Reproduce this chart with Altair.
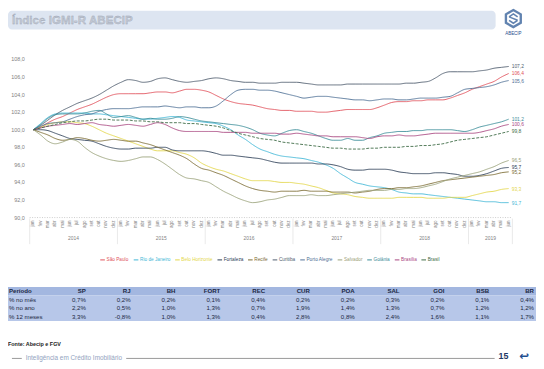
import altair as alt
import pandas as pd

# ---------------- data ----------------
series_names = ["São Paulo", "Rio de Janeiro", "Belo Horizonte", "Fortaleza", "Recife",
                "Curitiba", "Porto Alegre", "Salvador", "Goiânia", "Brasília", "Brasil"]
series_colors = ["#e04f5a", "#3fb7d6", "#e3d64a", "#2c3e56", "#7a6a32",
                 "#4f5d6e", "#4d6f95", "#9aa27a", "#3a8c98", "#a8457f", "#3d6b45"]

month_abbr = ["jan", "fev", "mar", "abr", "mai", "jun", "jul", "ago", "set", "out", "nov", "dez"]
years = [2014, 2015, 2016, 2017, 2018, 2019]
months_2019 = 6

sao_paulo = [100.0, 100.3, 100.8, 101.2, 101.5, 101.9, 102.3, 102.6, 102.9, 103.3, 103.7, 104.0,
             104.1, 104.1, 104.1, 104.1, 104.2, 104.3, 104.3, 104.2, 104.4, 104.6, 104.6, 104.5,
             104.3, 103.9, 103.5, 103.2, 103.0, 102.9, 102.8, 102.6, 102.4, 102.3, 102.2, 102.2,
             102.1, 102.1, 102.1, 102.0, 102.0, 102.1, 102.2, 102.3, 102.3, 102.3, 102.3, 102.5,
             102.8, 103.1, 103.2, 103.2, 103.3, 103.3, 103.4, 103.4, 103.4, 103.6, 103.9, 104.2,
             104.6, 104.9, 105.2, 105.5, 106.0, 106.4]
rio = [100.0, 100.7, 101.4, 101.8, 101.9, 101.9, 101.9, 101.9, 101.8, 101.8, 101.7, 101.6,
       101.5, 101.4, 101.3, 101.2, 101.2, 101.3, 101.4, 101.5, 101.4, 101.1, 101.0, 100.9,
       100.8, 100.7, 100.4, 100.0, 99.4, 98.9, 98.3, 97.8, 97.5, 97.2, 97.0, 96.9,
       96.8, 96.7, 96.5, 96.3, 96.0, 95.6, 95.0, 94.5, 94.0, 93.8, 93.6, 93.5,
       93.4, 93.2, 92.9, 92.8, 92.7, 92.7, 92.6, 92.5, 92.4, 92.3, 92.2, 92.1,
       92.0, 91.9, 91.8, 91.8, 91.7, 91.7]
belo_horizonte = [100.0, 100.3, 100.6, 100.8, 100.9, 100.9, 100.8, 100.7, 100.4, 100.0, 99.6, 99.3,
                  99.0, 98.7, 98.4, 98.1, 97.8, 97.6, 97.6, 97.6, 97.4, 97.2, 96.8, 96.2,
                  95.8, 95.5, 95.3, 95.0, 94.7, 94.4, 94.2, 94.2, 94.2, 94.1, 94.0, 94.0,
                  93.9, 93.8, 93.6, 93.4, 93.1, 92.8, 92.7, 92.6, 92.4, 92.3, 92.2, 92.2,
                  92.2, 92.2, 92.3, 92.3, 92.3, 92.3, 92.2, 92.2, 92.2, 92.3, 92.3, 92.3,
                  92.5, 92.7, 92.9, 93.0, 93.2, 93.3]
fortaleza = [100.0, 100.0, 99.9, 99.6, 99.3, 99.0, 98.9, 98.8, 98.7, 98.4, 98.1, 97.9,
             97.8, 97.8, 97.9, 97.9, 97.9, 98.0, 98.0, 97.7, 97.6, 97.6, 97.6, 97.6,
             97.5, 97.3, 97.1, 97.1, 97.0, 96.9, 96.8, 96.7, 96.5, 96.3, 96.2, 96.2,
             96.2, 96.2, 96.2, 96.1, 96.1, 96.0, 95.8, 95.5, 95.4, 95.4, 95.5, 95.5,
             95.5, 95.4, 95.2, 95.1, 95.0, 95.0, 95.0, 95.1, 95.1, 95.0, 94.9, 94.7,
             94.7, 94.8, 95.0, 95.3, 95.6, 95.7]
recife = [100.0, 99.7, 99.4, 99.0, 98.8, 98.9, 99.1, 99.0, 98.8, 98.7, 98.8, 98.9,
          98.8, 98.7, 98.7, 98.5, 98.3, 98.0, 97.7, 97.4, 97.1, 96.7, 96.1, 95.6,
          95.4, 95.1, 94.8, 94.4, 94.0, 93.6, 93.3, 93.1, 93.0, 92.9, 93.0, 93.0,
          93.0, 93.1, 93.0, 93.0, 93.0, 92.9, 92.9, 92.9, 92.8, 92.9, 93.0, 93.2,
          93.3, 93.3, 93.4, 93.4, 93.5, 93.6, 93.8, 94.0, 94.2, 94.3, 94.4, 94.5,
          94.6, 94.7, 94.8, 94.9, 95.1, 95.2]
curitiba = [100.0, 100.5, 101.1, 101.7, 102.2, 102.6, 103.0, 103.3, 103.6, 104.0, 104.5, 105.0,
            105.4, 105.7, 105.6, 105.4, 105.5, 105.8, 105.9, 105.7, 105.5, 105.4, 105.5, 105.6,
            105.8, 105.9, 105.8, 105.6, 105.5, 105.4, 105.4, 105.3, 105.3, 105.3, 105.4, 105.4,
            105.4, 105.3, 105.2, 105.1, 105.1, 105.1, 105.1, 105.2, 105.2, 105.2, 105.2, 105.2,
            105.2, 105.2, 105.2, 105.3, 105.3, 105.4, 105.5, 105.9, 106.4, 106.6, 106.6, 106.6,
            106.6, 106.7, 106.8, 107.0, 107.1, 107.2]
porto_alegre = [100.0, 100.4, 100.7, 100.8, 100.9, 101.2, 101.5, 101.7, 101.8, 102.1, 102.3, 102.4,
                102.4, 102.4, 102.5, 102.6, 102.6, 102.6, 102.7, 102.6, 102.5, 102.6, 102.6, 102.5,
                102.5, 102.7, 103.3, 104.0, 104.5, 104.6, 104.6, 104.5, 104.5, 104.4, 104.2, 104.0,
                103.8, 103.6, 103.7, 103.8, 103.8, 103.7, 103.6, 103.5, 103.4, 103.4, 103.3, 103.4,
                103.5, 103.5, 103.4, 103.4, 103.5, 103.6, 103.6, 103.6, 103.7, 103.8, 104.2, 104.6,
                104.7, 104.8, 104.9, 105.1, 105.4, 105.6]
salvador = [100.0, 99.4, 98.7, 98.4, 98.6, 98.9, 98.7, 98.0, 97.4, 97.0, 96.7, 96.5,
            96.4, 96.5, 96.7, 96.9, 96.9, 96.6, 96.1, 95.5, 94.9, 94.5, 94.4, 94.2,
            94.0, 93.5, 93.0, 92.6, 92.2, 91.9, 91.7, 91.8, 92.0, 92.1, 92.3, 92.5,
            92.5, 92.5, 92.6, 92.5, 92.5, 92.6, 92.7, 92.8, 92.9, 93.0, 93.1, 93.1,
            93.1, 93.2, 93.2, 93.3, 93.3, 93.4, 93.6, 93.8, 94.1, 94.4, 94.6, 94.8,
            95.0, 95.2, 95.5, 95.8, 96.2, 96.5]
goiania = [100.0, 100.6, 101.3, 101.7, 101.8, 101.8, 101.8, 101.9, 102.1, 102.2, 101.8, 101.4,
           101.5, 101.6, 101.4, 101.2, 101.3, 101.2, 101.2, 101.3, 101.5, 101.4, 101.2, 101.0,
           100.9, 100.8, 100.7, 100.6, 100.5, 100.3, 100.0, 99.6, 99.4, 99.3, 99.6, 99.9,
           100.0, 99.8, 99.6, 99.3, 99.0, 98.8, 98.8, 99.0, 98.8, 98.8, 99.1, 99.3,
           99.6, 99.7, 99.8, 99.8, 99.9, 99.9, 100.0, 100.0, 100.0, 100.0, 99.9, 99.8,
           100.0, 100.3, 100.5, 100.7, 100.9, 101.2]
brasilia = [100.0, 100.2, 100.4, 100.5, 100.6, 100.7, 100.6, 100.7, 100.8, 100.6, 100.5, 100.4,
            100.5, 100.6, 100.5, 100.4, 100.6, 100.8, 100.6, 100.2, 99.9, 99.8, 99.8, 99.8,
            99.8, 99.8, 99.7, 99.7, 99.7, 99.7, 99.6, 99.6, 99.6, 99.6, 99.5, 99.5,
            99.6, 99.5, 99.4, 99.3, 99.3, 99.2, 99.2, 99.2, 99.2, 99.1, 99.0, 99.2,
            99.3, 99.3, 99.4, 99.3, 99.3, 99.4, 99.5, 99.6, 99.6, 99.6, 99.6, 99.6,
            99.6, 99.7, 99.9, 100.1, 100.4, 100.6]
brasil = [100.0, 100.2, 100.4, 100.6, 100.8, 100.9, 101.0, 101.0, 101.1, 101.2, 101.2, 101.1,
          101.1, 101.1, 101.0, 101.0, 100.9, 100.9, 100.8, 100.8, 100.8, 100.7, 100.7, 100.6,
          100.5, 100.4, 100.2, 99.9, 99.6, 99.4, 99.2, 99.0, 98.9, 98.8, 98.6, 98.5,
          98.4, 98.3, 98.2, 98.1, 98.0, 97.9, 97.9, 97.8, 97.8, 97.8, 97.9, 97.9,
          98.0, 98.0, 98.0, 98.1, 98.1, 98.2, 98.2, 98.3, 98.4, 98.6, 98.8, 98.9,
          99.0, 99.1, 99.2, 99.4, 99.6, 99.8]

series_values = [sao_paulo, rio, belo_horizonte, fortaleza, recife, curitiba,
                 porto_alegre, salvador, goiania, brasilia, brasil]

y_ticks = [90.0, 92.0, 94.0, 96.0, 98.0, 100.0, 102.0, 104.0, 106.0, 108.0]

table_cols = ["SP", "RJ", "BH", "FORT", "REC", "CUR", "POA", "SAL", "GOI", "BSB", "BR"]
row_labels = ["Período", "% no mês", "% no ano", "% 12 meses"]
pct_mes = ["0,7%", "0,2%", "0,2%", "0,1%", "0,4%", "0,2%", "0,2%", "0,3%", "0,2%", "0,1%", "0,4%"]
pct_ano = ["2,2%", "0,5%", "1,0%", "1,3%", "0,7%", "1,9%", "1,4%", "1,3%", "0,7%", "1,2%", "1,2%"]
pct_12m = ["3,3%", "-0,8%", "1,0%", "1,3%", "0,4%", "2,8%", "0,8%", "2,4%", "1,6%", "1,1%", "1,7%"]

title_text = "Índice IGMI-R ABECIP"
source_text = "Fonte: Abecip e FGV"
footer_text = "Inteligência em Crédito Imobiliário"
page_text = "15"

# ---------------- tables ----------------
def fmt(v):
    return f"{v:.1f}".replace(".", ",")

rows = []
for name, vals in zip(series_names, series_values):
    for i, v in enumerate(vals):
        rows.append({"series": name, "m": i, "v": v})
df_lines = pd.DataFrame(rows)

df_end = pd.DataFrame([{"series": n, "m": len(v) - 1, "v": v[-1], "lab": fmt(v[-1])}
                       for n, v in zip(series_names, series_values)])

month_rows = []
k = 0
for y in years:
    nm = months_2019 if y == years[-1] else 12
    for j in range(nm):
        month_rows.append({"m": k, "lab": month_abbr[j]})
        k += 1
df_months = pd.DataFrame(month_rows)
n_months = k

year_rows = []
div_rows = []
start = 0
for y in years:
    nm = months_2019 if y == years[-1] else 12
    year_rows.append({"m": start + (nm - 1) / 2, "lab": str(y)})
    div_rows.append({"m": start - 0.5})
    start += nm
div_rows.append({"m": start - 0.5})
df_years = pd.DataFrame(year_rows)
df_div = pd.DataFrame(div_rows)

df_yt = pd.DataFrame({"v": y_ticks, "lab": [fmt(v) for v in y_ticks]})
df_base = pd.DataFrame({"a": [-0.5], "b": [n_months - 0.5], "v": [y_ticks[0]]})

head_cells = pd.DataFrame({"col": table_cols, "r": [0.5] * len(table_cols), "t": table_cols})
body = []
for r, vals in enumerate([pct_mes, pct_ano, pct_12m]):
    for c, t in zip(table_cols, vals):
        body.append({"col": c, "r": r + 1.5, "t": t})
body_cells = pd.DataFrame(body)
df_rowhead = pd.DataFrame({"r": [0.5], "t": [row_labels[0]]})
df_rowlab = pd.DataFrame({"r": [i + 1.5 for i in range(3)], "t": row_labels[1:]})
df_headbg = pd.DataFrame({"r0": [0], "r1": [1]})
df_bodybg = pd.DataFrame({"r0": [1], "r1": [4]})

# ---------------- scales ----------------
XS = alt.Scale(domain=[-0.5, n_months - 0.5], range=[22, 512], nice=False, zero=False)
YS = alt.Scale(domain=[90, 108], range=[210, 49.5], nice=False, zero=False)
CS = alt.Scale(domain=series_names, range=series_colors)
RS = alt.Scale(domain=[0, 4], range=[280.5, 315], nice=False, zero=False)
COLS = alt.Scale(type="point", domain=table_cols, range=[80, 535], padding=0)

FONT = "Liberation Sans"
GRAY = "#7f7f7f"
TXT = "#1c2742"

# ---------------- layers ----------------
title_bg = alt.Chart(pd.DataFrame({"t": [title_text]})).mark_rect(
    fill="#dde5f1", cornerRadius=4).encode(
    x=alt.value(0), x2=alt.value(495), y=alt.value(0), y2=alt.value(19))
title_tx = alt.Chart(pd.DataFrame({"t": [title_text]})).mark_text(
    align="left", baseline="middle", font=FONT, fontSize=11.8, fontWeight="bold",
    fill="#c3c9d3", stroke="#9aa3b3", strokeWidth=0.3).encode(
    x=alt.value(4), y=alt.value(9.5), text="t:N")

hexagon = "M0,-1L0.87,-0.5L0.87,0.5L0,1L-0.87,0.5L-0.87,-0.5Z"
inner = "M-0.5,-0.2L0,-0.55L0.5,-0.2M-0.5,0.2L0,0.55L0.5,0.2M-0.5,-0.2L0.5,0.2"
logo1 = alt.Chart(pd.DataFrame({"t": ["ABECIP"]})).mark_point(
    shape=hexagon, filled=False, stroke="#1f4f8f", strokeWidth=2.4, size=300).encode(
    x=alt.value(513), y=alt.value(8))
logo2 = alt.Chart(pd.DataFrame({"t": ["ABECIP"]})).mark_point(
    shape=inner, filled=False, stroke="#1f4f8f", strokeWidth=1.6, size=300).encode(
    x=alt.value(513), y=alt.value(8))
logo3 = alt.Chart(pd.DataFrame({"t": ["ABECIP"]})).mark_text(
    font=FONT, fontSize=4.5, fill="#1f4f8f", baseline="middle").encode(
    x=alt.value(513), y=alt.value(24), text="t:N")

ylabels = alt.Chart(df_yt).mark_text(align="right", baseline="middle", font=FONT,
                                     fontSize=5.5, fill=GRAY).encode(
    x=alt.value(17), y=alt.Y("v:Q", scale=YS, axis=None), text="lab:N")

baseline = alt.Chart(df_base).mark_rule(stroke="#bfbfbf", strokeWidth=0.8,
                                        strokeDash=[1, 1.5]).encode(
    x=alt.X("a:Q", scale=XS, axis=None), x2="b:Q", y=alt.Y("v:Q", scale=YS, axis=None))

lines = alt.Chart(df_lines).mark_line(strokeWidth=0.9, interpolate="monotone").encode(
    x=alt.X("m:Q", scale=XS, axis=None),
    y=alt.Y("v:Q", scale=YS, axis=None),
    color=alt.Color("series:N", scale=CS, sort=series_names,
                    legend=alt.Legend(orient="none", legendX=93, legendY=250,
                                      direction="horizontal", columns=11, title=None,
                                      symbolType="stroke", symbolSize=22,
                                      symbolStrokeWidth=1, labelFontSize=4.8,
                                      labelFont=FONT, labelOffset=1, columnPadding=2,
                                      padding=0, labelColor={"expr": "scale('color', datum.value)"})),
    strokeDash=alt.condition(alt.datum.series == "Brasil", alt.value([3, 1.5]), alt.value([1, 0])),
    detail="series:N",
)

endlab = alt.Chart(df_end).mark_text(align="left", baseline="middle", dx=3, font=FONT,
                                     fontSize=5).encode(
    x=alt.X("m:Q", scale=XS, axis=None), y=alt.Y("v:Q", scale=YS, axis=None),
    color=alt.Color("series:N", scale=CS, legend=None), text="lab:N")

mlabels = alt.Chart(df_months).mark_text(angle=270, align="right", baseline="middle",
                                         font=FONT, fontSize=4.6, fill=GRAY).encode(
    x=alt.X("m:Q", scale=XS, axis=None), y=alt.value(213), text="lab:N")
ylab2 = alt.Chart(df_years).mark_text(baseline="middle", font=FONT, fontSize=5,
                                      fill=GRAY).encode(
    x=alt.X("m:Q", scale=XS, axis=None), y=alt.value(231), text="lab:N")
dividers = alt.Chart(df_div).mark_rule(stroke="#d9d9d9", strokeWidth=0.6).encode(
    x=alt.X("m:Q", scale=XS, axis=None), y=alt.value(211), y2=alt.value(237))

headbg = alt.Chart(df_headbg).mark_rect(fill="#a3b7e0").encode(
    x=alt.value(0), x2=alt.value(536),
    y=alt.Y("r0:Q", scale=RS, axis=None), y2="r1:Q")
bodybg = alt.Chart(df_bodybg).mark_rect(fill="#b7c7e9").encode(
    x=alt.value(0), x2=alt.value(536),
    y=alt.Y("r0:Q", scale=RS, axis=None), y2="r1:Q")
headtx = alt.Chart(head_cells).mark_text(align="right", baseline="middle", dx=-1,
                                         font=FONT, fontSize=6.2, fontWeight="bold",
                                         fill=TXT).encode(
    x=alt.X("col:N", scale=COLS, axis=None), y=alt.Y("r:Q", scale=RS, axis=None), text="t:N")
celltx = alt.Chart(body_cells).mark_text(align="right", baseline="middle", dx=-1,
                                         font=FONT, fontSize=6.2, fill=TXT).encode(
    x=alt.X("col:N", scale=COLS, axis=None), y=alt.Y("r:Q", scale=RS, axis=None), text="t:N")
rowhead = alt.Chart(df_rowhead).mark_text(align="left", baseline="middle", font=FONT,
                                          fontSize=6.2, fontWeight="bold", fill=TXT).encode(
    x=alt.value(1), y=alt.Y("r:Q", scale=RS, axis=None), text="t:N")
rowtx = alt.Chart(df_rowlab).mark_text(align="left", baseline="middle", font=FONT,
                                       fontSize=6.2, fill=TXT).encode(
    x=alt.value(1), y=alt.Y("r:Q", scale=RS, axis=None), text="t:N")

source = alt.Chart(pd.DataFrame({"t": [source_text]})).mark_text(
    align="left", baseline="middle", font=FONT, fontSize=5.5, fontWeight="bold",
    fill="#222222").encode(x=alt.value(0), y=alt.value(338), text="t:N")
frule1 = alt.Chart(pd.DataFrame({"t": [footer_text]})).mark_rule(
    stroke=GRAY, strokeWidth=0.8).encode(x=alt.value(4), x2=alt.value(14), y=alt.value(353))
frule2 = alt.Chart(pd.DataFrame({"t": [footer_text]})).mark_rule(
    stroke=GRAY, strokeWidth=0.8).encode(x=alt.value(120), x2=alt.value(494), y=alt.value(353))
ftext = alt.Chart(pd.DataFrame({"t": [footer_text]})).mark_text(
    align="left", baseline="middle", font=FONT, fontSize=6.5, fill="#93a3c0").encode(
    x=alt.value(18), y=alt.value(353), text="t:N")
page = alt.Chart(pd.DataFrame({"t": [page_text]})).mark_text(
    align="center", baseline="middle", font=FONT, fontSize=9, fontWeight="bold",
    fill="#1f3864").encode(x=alt.value(503), y=alt.value(351), text="t:N")
arrow = alt.Chart(pd.DataFrame({"t": ["↩"]})).mark_text(
    align="center", baseline="middle", font="DejaVu Sans", fontSize=12, fontWeight="bold",
    fill="#1f4f8f").encode(x=alt.value(524), y=alt.value(351), text="t:N")

chart = alt.layer(
    title_bg, title_tx, logo1, logo2, logo3,
    baseline, ylabels, dividers, mlabels, ylab2,
    lines, endlab,
    headbg, bodybg, headtx, celltx, rowhead, rowtx,
    source, frule1, frule2, ftext, page, arrow,
).resolve_scale(x="independent", y="independent").properties(
    width=536, height=361, padding=0, autosize=alt.AutoSizeParams(type="none"),
    background="white",
).configure_view(stroke=None)

chart.save("out.html", embed_options={"renderer": "svg", "actions": False})
